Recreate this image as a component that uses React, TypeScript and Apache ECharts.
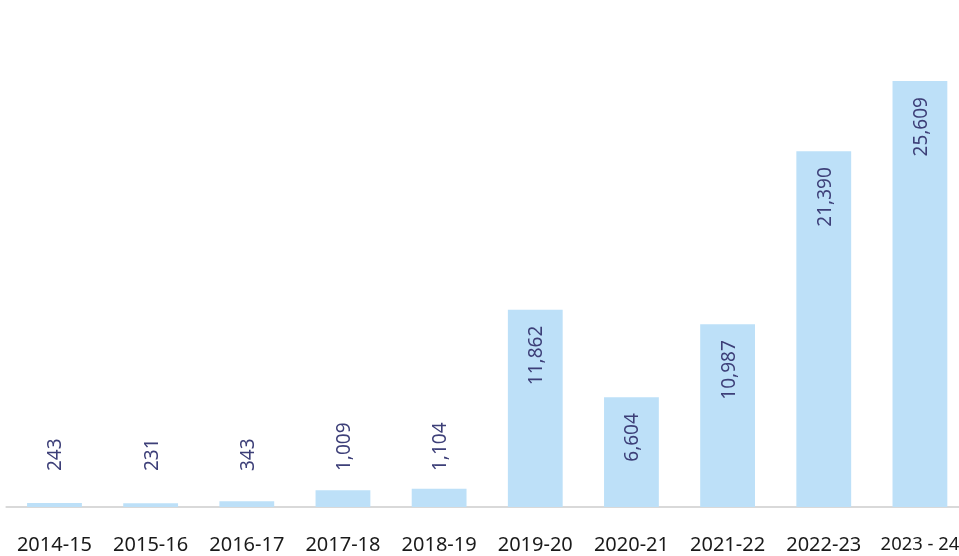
import React, { useEffect, useRef } from "react";
import * as echarts from "echarts";

const categories = ["2014-15", "2015-16", "2016-17", "2017-18", "2018-19", "2019-20", "2020-21", "2021-22", "2022-23", "2023 - 24"];
const values = [243, 231, 343, 1009, 1104, 11862, 6604, 10987, 21390, 25609];

export default function App() {
  const ref = useRef<HTMLDivElement>(null);
  useEffect(() => {
    if (!ref.current) return;
    const chart = echarts.init(ref.current, null, { renderer: "svg" });
    const labelColor = "#3d3f78";
    chart.setOption({
      animation: false,
      grid: { left: 6.4, top: 8, right: 0, bottom: 49, containLabel: false },
      xAxis: {
        type: "category",
        data: categories.map((c, i) =>
          i === categories.length - 1 ? { value: c, textStyle: { fontSize: 18.4 } } : c
        ),
        axisLine: { show: true, lineStyle: { color: "#d9d9d9", width: 2 } },
        axisTick: { show: false },
        axisLabel: {
          interval: 0,
          margin: 26,
          color: "#1a1a1a",
          fontSize: 20,
          fontFamily: "Noto Sans",
        },
      },
      yAxis: {
        type: "value",
        min: 0,
        max: 30000,
        show: false,
        splitLine: { show: false },
      },
      series: [
        {
          type: "bar",
          barWidth: "57%",
          itemStyle: { color: "#bde0f8" },
          data: values.map((v) => ({
            value: v,
            label:
              v < 2000
                ? { position: "insideBottom", distance: 36, align: "left", verticalAlign: "middle" }
                : { position: "insideTop", distance: 16, align: "right", verticalAlign: "middle" },
          })),
          label: {
            show: true,
            rotate: 90,
            color: labelColor,
            fontSize: 19,
            fontFamily: "Noto Sans",
            formatter: (p: any) => Number(p.value).toLocaleString("en-US"),
          },
        },
      ],
    });
    return () => chart.dispose();
  }, []);
  return <div ref={ref} style={{ position: "fixed", left: 0, top: 0, width: 968, height: 556 }} />;
}
